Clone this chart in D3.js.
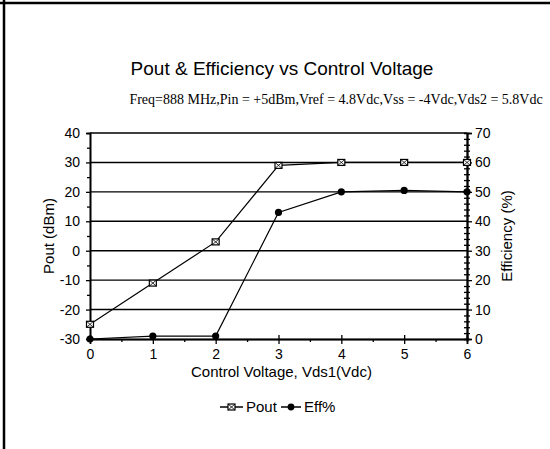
<!DOCTYPE html>
<html>
<head>
<meta charset="utf-8">
<script src="https://cdn.jsdelivr.net/npm/d3@7"></script>
<style>
  body { margin: 0; background: #fff; }
  text { fill: #000; }
</style>
</head>
<body>
<svg id="chart"></svg>
<script>
// data
var voltage = [0, 1, 2, 3, 4, 5, 6];
var pout = [-25, -11, 3, 29, 30, 30, 30];
var eff = [0, 1, 1, 43, 50, 50.5, 50];
var leftTicks = [-30, -20, -10, 0, 10, 20, 30, 40];
var rightTicks = [0, 10, 20, 30, 40, 50, 60, 70];
var xTicks = [0, 1, 2, 3, 4, 5, 6];

var W = 550, H = 449;
var margin = {top: 133, right: 83, bottom: 110, left: 90},
    width = W - margin.left - margin.right,
    height = H - margin.top - margin.bottom;

var svg = d3.select("#chart").attr("width", W).attr("height", H);

// page frame (scanned page edge)
svg.append("line").attr("x1", 0).attr("x2", W).attr("y1", 3).attr("y2", 3)
   .attr("stroke", "#000").attr("stroke-width", 2.5);
svg.append("line").attr("x1", 4).attr("x2", 4).attr("y1", 0).attr("y2", H)
   .attr("stroke", "#000").attr("stroke-width", 2.5);

svg.append("text").attr("x", 282).attr("y", 75).attr("text-anchor", "middle")
   .style("font", "19px 'Liberation Sans', Arial, sans-serif")
   .text("Pout & Efficiency vs Control Voltage");
svg.append("text").attr("x", 336).attr("y", 104).attr("text-anchor", "middle")
   .style("font", "14px 'Liberation Serif', 'Times New Roman', serif")
   .text("Freq=888 MHz,Pin = +5dBm,Vref = 4.8Vdc,Vss = -4Vdc,Vds2 = 5.8Vdc");

var g = svg.append("g").attr("transform", "translate(" + margin.left + "," + margin.top + ")");

var x = d3.scaleLinear().domain([0, 6]).range([0, width]);
var yL = d3.scaleLinear().domain([-30, 40]).range([height, 0]);
var yR = d3.scaleLinear().domain([0, 70]).range([height, 0]);

// horizontal grid
g.selectAll(".grid").data(leftTicks.slice(1)).enter().append("line")
  .attr("x1", 0).attr("x2", width)
  .attr("y1", d => yL(d)).attr("y2", d => yL(d))
  .attr("stroke", "#000").attr("stroke-width", 1.4);

var font = "14px 'Liberation Sans', Arial, sans-serif";
var titleFont = "15px 'Liberation Sans', Arial, sans-serif";
var plain = d => String(d);

// left axis
g.append("g").call(d3.axisLeft(yL).tickValues(leftTicks).tickSize(4).tickPadding(6).tickFormat(plain));
g.append("g").call(d3.axisLeft(yL).tickValues(d3.range(-25, 40, 10)).tickSize(3).tickFormat(""));
// right axis
g.append("g").attr("transform", "translate(" + width + ",0)")
  .call(d3.axisRight(yR).tickValues(rightTicks).tickSize(5).tickPadding(3).tickFormat(plain));
g.append("g").attr("transform", "translate(" + width + ",0)")
  .call(d3.axisRight(yR).tickValues(d3.range(2, 70, 2).filter(d => d % 10)).tickSize(3).tickFormat(""));
g.append("g").attr("transform", "translate(" + width + ",0)")
  .call(d3.axisLeft(yR).tickValues(d3.range(2, 70, 2).filter(d => d % 10)).tickSize(3).tickFormat(""));
// bottom axis
g.append("g").attr("transform", "translate(0," + height + ")")
  .call(d3.axisBottom(x).tickValues(xTicks).tickSize(5).tickPadding(5).tickFormat(plain));
g.append("g").attr("transform", "translate(0," + height + ")")
  .call(d3.axisBottom(x).tickValues(d3.range(0.5, 6, 1)).tickSize(3).tickFormat(""));
g.append("g").attr("transform", "translate(0," + height + ")")
  .call(d3.axisTop(x).tickValues(xTicks).tickSize(4).tickFormat(""));

g.selectAll(".domain").attr("stroke", "#000").attr("stroke-width", 1.6);
g.selectAll(".tick line").attr("stroke", "#000").attr("stroke-width", 1.3);
g.selectAll(".tick text").style("font", font).attr("fill", "#000");

// axis titles
g.append("text").attr("transform", "translate(-36," + (height / 2) + ") rotate(-90)")
  .attr("text-anchor", "middle").style("font", titleFont).text("Pout (dBm)");
g.append("text").attr("transform", "translate(" + (width + 45) + "," + (height / 2) + ") rotate(-90)")
  .attr("text-anchor", "middle").style("font", titleFont).text("Efficiency (%)");
g.append("text").attr("x", width / 2 + 3).attr("y", height + 38)
  .attr("text-anchor", "middle").style("font", titleFont).text("Control Voltage, Vds1(Vdc)");

// series
var linePout = d3.line().x((d, i) => x(voltage[i])).y(d => yL(d));
var lineEff = d3.line().x((d, i) => x(voltage[i])).y(d => yR(d));

g.append("path").datum(pout).attr("d", linePout)
  .attr("fill", "none").attr("stroke", "#000").attr("stroke-width", 1.2);
g.append("path").datum(eff).attr("d", lineEff)
  .attr("fill", "none").attr("stroke", "#000").attr("stroke-width", 1.2);

function squareMarker(sel, cx, cy) {
  sel.append("rect").attr("x", cx - 3.5).attr("y", cy - 3).attr("width", 7).attr("height", 6)
    .attr("fill", "#fff").attr("stroke", "#000").attr("stroke-width", 1.2);
  sel.append("path").attr("d", "M" + (cx - 3.5) + "," + (cy - 3) + "L" + (cx + 3.5) + "," + (cy + 3)
    + "M" + (cx + 3.5) + "," + (cy - 3) + "L" + (cx - 3.5) + "," + (cy + 3))
    .attr("stroke", "#000").attr("stroke-width", 0.8);
}

pout.forEach((d, i) => squareMarker(g, x(voltage[i]), yL(d)));
g.selectAll(".effdot").data(eff).enter().append("circle")
  .attr("cx", (d, i) => x(voltage[i])).attr("cy", d => yR(d)).attr("r", 3.6)
  .attr("fill", "#000");

// legend
var lg = svg.append("g").attr("transform", "translate(220,407)");
lg.append("line").attr("x1", 0).attr("x2", 23).attr("y1", 0).attr("y2", 0).attr("stroke", "#000").attr("stroke-width", 1.5);
squareMarker(lg, 11.5, 0);
lg.append("text").attr("x", 26).attr("y", 5).style("font", titleFont).text("Pout");
lg.append("line").attr("x1", 61).attr("x2", 81).attr("y1", 0).attr("y2", 0).attr("stroke", "#000").attr("stroke-width", 1.5);
lg.append("circle").attr("cx", 71).attr("cy", 0).attr("r", 3.4).attr("fill", "#000");
lg.append("text").attr("x", 84).attr("y", 5).style("font", titleFont).text("Eff%");
</script>
</body>
</html>
